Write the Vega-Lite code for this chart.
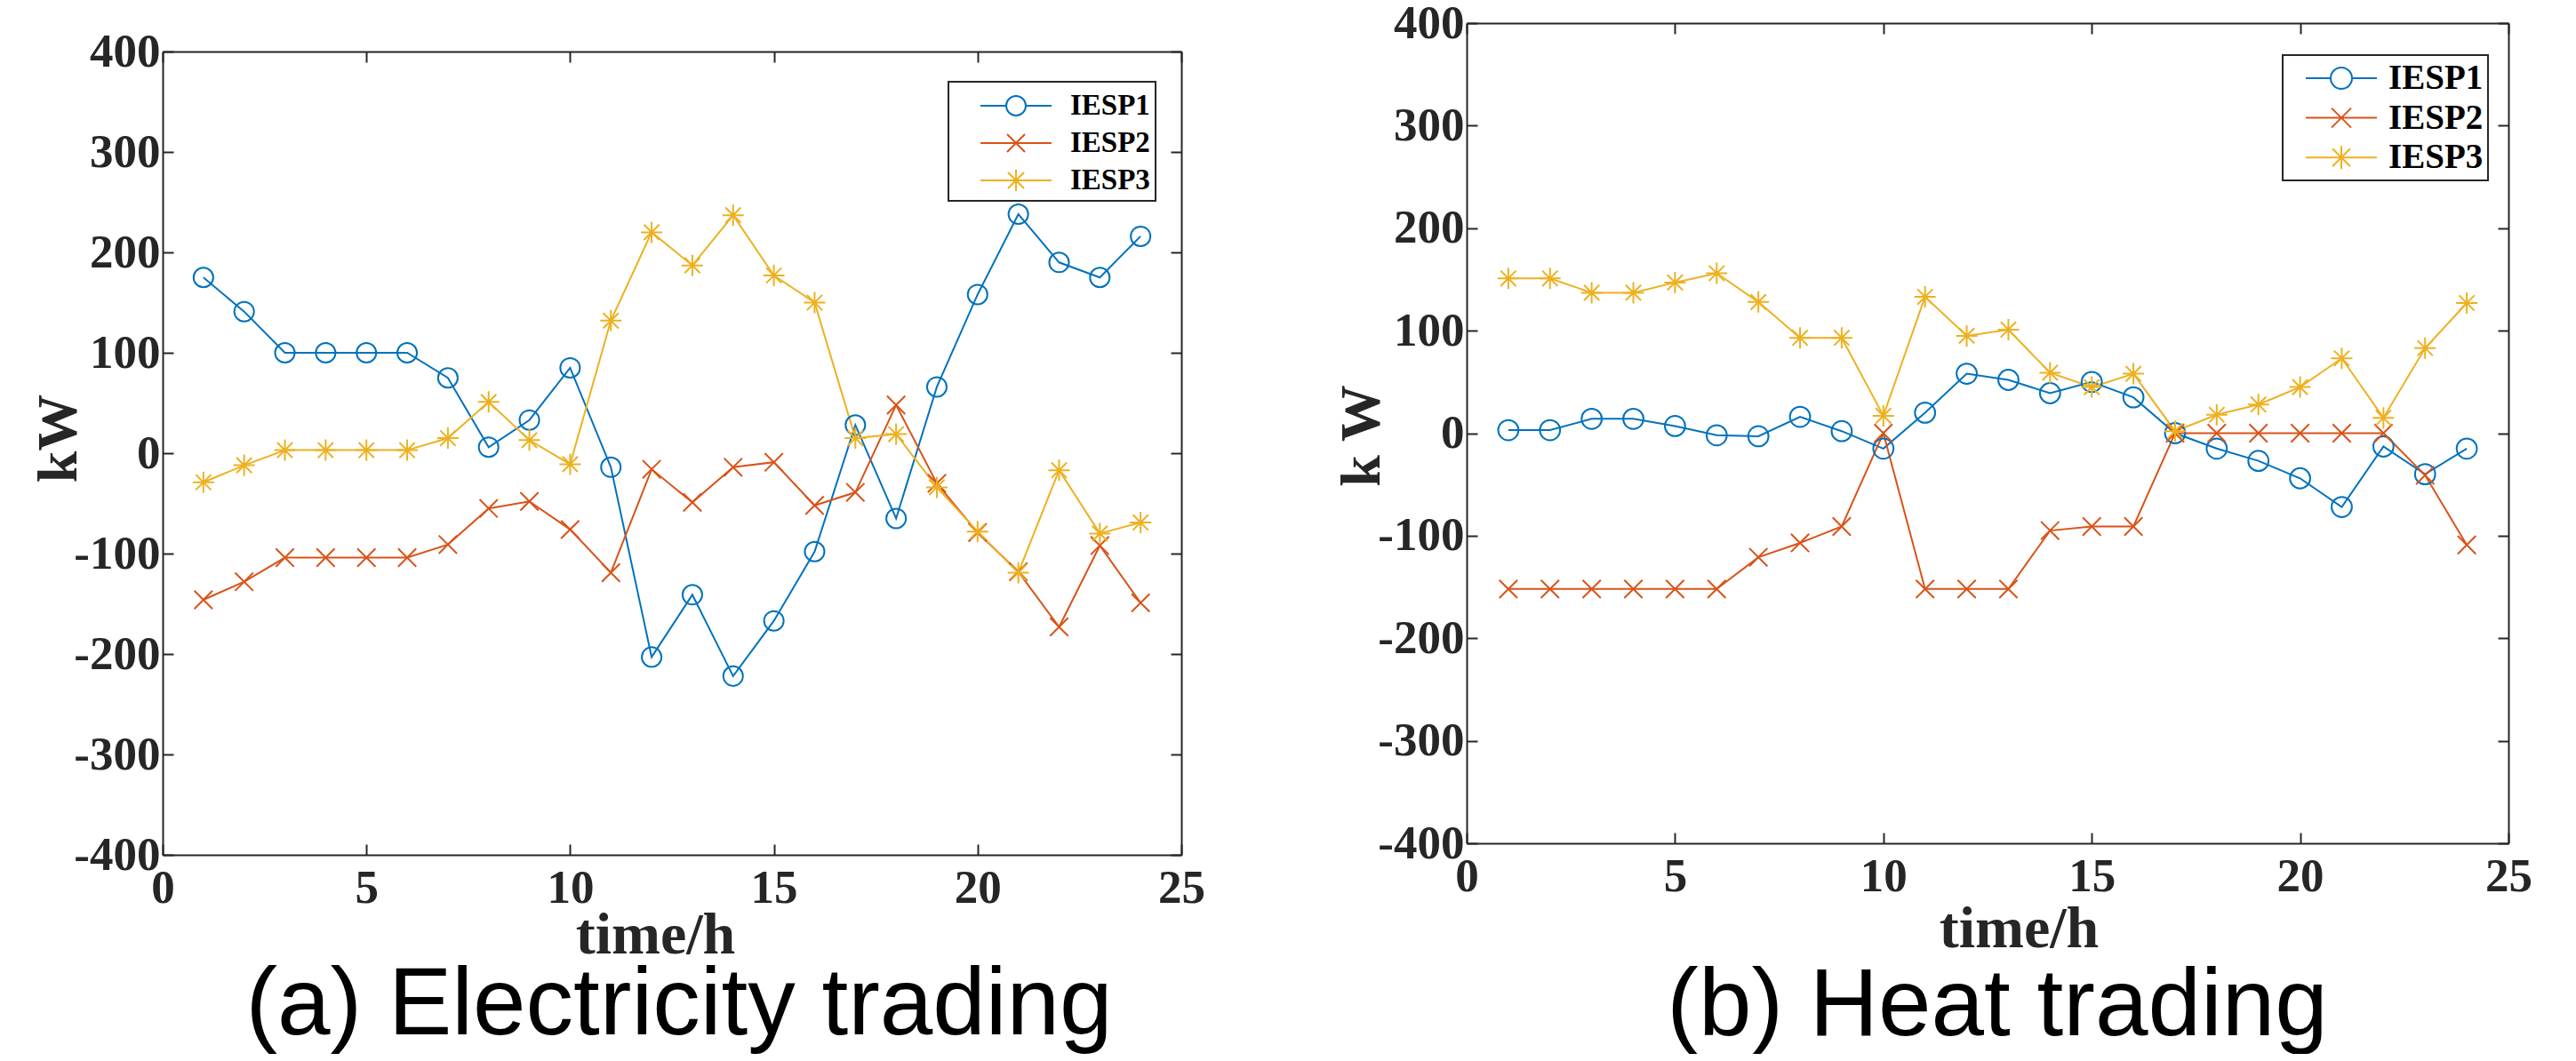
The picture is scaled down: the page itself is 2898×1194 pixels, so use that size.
{
  "$schema": "https://vega.github.io/schema/vega-lite/v6.json",
  "background": "white",
  "padding": {"left": 34, "top": 0, "right": 5, "bottom": 0},
  "spacing": 144,
  "datasets": {
    "elec": [
      {"t":1,"series":"IESP1","v":175},{"t":2,"series":"IESP1","v":141},{"t":3,"series":"IESP1","v":100},{"t":4,"series":"IESP1","v":100},{"t":5,"series":"IESP1","v":100},{"t":6,"series":"IESP1","v":100},{"t":7,"series":"IESP1","v":75},{"t":8,"series":"IESP1","v":6},{"t":9,"series":"IESP1","v":33},{"t":10,"series":"IESP1","v":85},{"t":11,"series":"IESP1","v":-14},{"t":12,"series":"IESP1","v":-203},{"t":13,"series":"IESP1","v":-141},{"t":14,"series":"IESP1","v":-222},{"t":15,"series":"IESP1","v":-167},{"t":16,"series":"IESP1","v":-98},{"t":17,"series":"IESP1","v":28},{"t":18,"series":"IESP1","v":-65},{"t":19,"series":"IESP1","v":66},{"t":20,"series":"IESP1","v":158},{"t":21,"series":"IESP1","v":238},{"t":22,"series":"IESP1","v":190},{"t":23,"series":"IESP1","v":175},{"t":24,"series":"IESP1","v":216},
      {"t":1,"series":"IESP2","v":-146},{"t":2,"series":"IESP2","v":-128},{"t":3,"series":"IESP2","v":-104},{"t":4,"series":"IESP2","v":-104},{"t":5,"series":"IESP2","v":-104},{"t":6,"series":"IESP2","v":-104},{"t":7,"series":"IESP2","v":-91},{"t":8,"series":"IESP2","v":-55},{"t":9,"series":"IESP2","v":-48},{"t":10,"series":"IESP2","v":-76},{"t":11,"series":"IESP2","v":-119},{"t":12,"series":"IESP2","v":-16},{"t":13,"series":"IESP2","v":-49},{"t":14,"series":"IESP2","v":-14},{"t":15,"series":"IESP2","v":-9},{"t":16,"series":"IESP2","v":-52},{"t":17,"series":"IESP2","v":-39},{"t":18,"series":"IESP2","v":48},{"t":19,"series":"IESP2","v":-30},{"t":20,"series":"IESP2","v":-79},{"t":21,"series":"IESP2","v":-118},{"t":22,"series":"IESP2","v":-173},{"t":23,"series":"IESP2","v":-92},{"t":24,"series":"IESP2","v":-149},
      {"t":1,"series":"IESP3","v":-29},{"t":2,"series":"IESP3","v":-12},{"t":3,"series":"IESP3","v":3},{"t":4,"series":"IESP3","v":3},{"t":5,"series":"IESP3","v":3},{"t":6,"series":"IESP3","v":3},{"t":7,"series":"IESP3","v":15},{"t":8,"series":"IESP3","v":51},{"t":9,"series":"IESP3","v":13},{"t":10,"series":"IESP3","v":-11},{"t":11,"series":"IESP3","v":132},{"t":12,"series":"IESP3","v":220},{"t":13,"series":"IESP3","v":187},{"t":14,"series":"IESP3","v":237},{"t":15,"series":"IESP3","v":177},{"t":16,"series":"IESP3","v":150},{"t":17,"series":"IESP3","v":15},{"t":18,"series":"IESP3","v":19},{"t":19,"series":"IESP3","v":-34},{"t":20,"series":"IESP3","v":-78},{"t":21,"series":"IESP3","v":-119},{"t":22,"series":"IESP3","v":-17},{"t":23,"series":"IESP3","v":-80},{"t":24,"series":"IESP3","v":-69}
    ],
    "heat": [
      {"t":1,"series":"IESP1","v":3},{"t":2,"series":"IESP1","v":3},{"t":3,"series":"IESP1","v":14},{"t":4,"series":"IESP1","v":14},{"t":5,"series":"IESP1","v":7},{"t":6,"series":"IESP1","v":-2},{"t":7,"series":"IESP1","v":-3},{"t":8,"series":"IESP1","v":16},{"t":9,"series":"IESP1","v":2},{"t":10,"series":"IESP1","v":-15},{"t":11,"series":"IESP1","v":20},{"t":12,"series":"IESP1","v":58},{"t":13,"series":"IESP1","v":52},{"t":14,"series":"IESP1","v":39},{"t":15,"series":"IESP1","v":50},{"t":16,"series":"IESP1","v":35},{"t":17,"series":"IESP1","v":0},{"t":18,"series":"IESP1","v":-15},{"t":19,"series":"IESP1","v":-27},{"t":20,"series":"IESP1","v":-44},{"t":21,"series":"IESP1","v":-72},{"t":22,"series":"IESP1","v":-13},{"t":23,"series":"IESP1","v":-40},{"t":24,"series":"IESP1","v":-15},
      {"t":1,"series":"IESP2","v":-152},{"t":2,"series":"IESP2","v":-152},{"t":3,"series":"IESP2","v":-152},{"t":4,"series":"IESP2","v":-152},{"t":5,"series":"IESP2","v":-152},{"t":6,"series":"IESP2","v":-152},{"t":7,"series":"IESP2","v":-121},{"t":8,"series":"IESP2","v":-107},{"t":9,"series":"IESP2","v":-91},{"t":10,"series":"IESP2","v":0},{"t":11,"series":"IESP2","v":-152},{"t":12,"series":"IESP2","v":-152},{"t":13,"series":"IESP2","v":-152},{"t":14,"series":"IESP2","v":-95},{"t":15,"series":"IESP2","v":-91},{"t":16,"series":"IESP2","v":-91},{"t":17,"series":"IESP2","v":0},{"t":18,"series":"IESP2","v":0},{"t":19,"series":"IESP2","v":0},{"t":20,"series":"IESP2","v":0},{"t":21,"series":"IESP2","v":0},{"t":22,"series":"IESP2","v":0},{"t":23,"series":"IESP2","v":-41},{"t":24,"series":"IESP2","v":-109},
      {"t":1,"series":"IESP3","v":151},{"t":2,"series":"IESP3","v":151},{"t":3,"series":"IESP3","v":137},{"t":4,"series":"IESP3","v":137},{"t":5,"series":"IESP3","v":147},{"t":6,"series":"IESP3","v":156},{"t":7,"series":"IESP3","v":128},{"t":8,"series":"IESP3","v":93},{"t":9,"series":"IESP3","v":93},{"t":10,"series":"IESP3","v":17},{"t":11,"series":"IESP3","v":133},{"t":12,"series":"IESP3","v":95},{"t":13,"series":"IESP3","v":101},{"t":14,"series":"IESP3","v":59},{"t":15,"series":"IESP3","v":45},{"t":16,"series":"IESP3","v":58},{"t":17,"series":"IESP3","v":2},{"t":18,"series":"IESP3","v":18},{"t":19,"series":"IESP3","v":28},{"t":20,"series":"IESP3","v":45},{"t":21,"series":"IESP3","v":73},{"t":22,"series":"IESP3","v":15},{"t":23,"series":"IESP3","v":83},{"t":24,"series":"IESP3","v":127}
    ]
  },
  "config": {
    "view": {"stroke": null},
    "axis": {
      "domain": true, "domainColor": "#262626", "domainWidth": 2,
      "ticks": true, "tickColor": "#262626", "tickWidth": 2, "tickSize": -12,
      "grid": false,
      "labelFont": "Liberation Serif", "labelFontWeight": "bold", "labelFontSize": 53, "labelColor": "#262626",
      "labelFlush": false, "labelOverlap": false, "labelBound": false,
      "labelExpr": "datum.value < 0 ? '-' + abs(datum.value) : '' + datum.value",
      "titleFont": "Liberation Serif", "titleFontWeight": "bold", "titleColor": "#262626"
    },
    "legend": {
      "labelFont": "Liberation Serif", "labelFontWeight": "bold", "labelColor": "#000000",
      "fillColor": "#FFFFFF", "strokeColor": "#262626"
    }
  },
  "resolve": {"scale": {"color": "independent"}},
  "hconcat": [
    {
      "width": 1146, "height": 936,
      "data": {"name": "elec"},
      "title": {"text": "(a) Electricity trading", "orient": "bottom", "anchor": "middle", "frame": "group", "dx": 8, "offset": -6, "baseline": "top", "font": "Liberation Sans", "fontSize": 107, "fontWeight": "normal", "color": "#000000"},
      "encoding": {
        "x": {"field": "t", "type": "quantitative", "scale": {"domain": [0, 25], "nice": false, "zero": false}},
        "y": {"field": "v", "type": "quantitative", "scale": {"domain": [-400, 400], "range": [936, 32], "nice": false, "zero": false}},
        "color": {"field": "series", "type": "nominal", "scale": {"domain": ["IESP1", "IESP2", "IESP3"], "range": ["#0072BD", "#D95319", "#EDB120"]}, "legend": null}
      },
      "layer": [
        {
          "mark": {"type": "line", "strokeWidth": 2},
          "encoding": {
            "x": {"field": "t", "type": "quantitative",
                  "axis": {"orient": "bottom", "values": [0, 5, 10, 15, 20, 25], "labelPadding": 23, "labelDx": 7,
                           "title": "time/h", "titleFontSize": 66, "titleBaseline": "alphabetic", "titleAlign": "center", "titleX": 554, "titleY": 110}},
            "y": {"field": "v", "type": "quantitative",
                  "axis": {"orient": "left", "values": [-400, -300, -200, -100, 0, 100, 200, 300, 400], "labelPadding": 15, "labelDy": 6,
                           "title": "kW", "titleFontSize": 64, "titleAngle": 270, "titleBaseline": "middle", "titleAlign": "center", "titleX": -117, "titleY": 467}},
            "color": {"field": "series", "type": "nominal",
                      "legend": {"title": null, "orient": "none", "legendX": 884, "legendY": 66, "direction": "vertical",
                                 "padding": 6, "rowPadding": 4, "symbolOffset": 49, "labelOffset": 40, "symbolSize": 1600, "symbolStrokeWidth": 2,
                                 "labelFontSize": 33,
                                 "encode": {
                                   "symbols": {"update": {
                                     "shape": {"signal": "datum.value === 'IESP1' ? 'M-2,0L-0.55,0M0.55,0L2,0M0.55,0A0.55,0.55 0 1,1 -0.55,0A0.55,0.55 0 1,1 0.55,0' : datum.value === 'IESP2' ? 'M-2,0L2,0M-0.5,-0.5L0.5,0.5M-0.5,0.5L0.5,-0.5' : 'M-2,0L2,0M0,-0.6L0,0.6M-0.45,-0.45L0.45,0.45M-0.45,0.45L0.45,-0.45'"},
                                     "size": {"value": 1600}, "strokeWidth": {"value": 2}, "fill": {"value": "transparent"}, "opacity": {"value": 1}}},
                                   "legend": {"update": {"strokeWidth": {"value": 2}}}
                                 }}}
          }
        },
        {
          "transform": [{"filter": "datum.series === 'IESP1'"}],
          "mark": {"type": "point", "filled": false, "strokeWidth": 2, "size": 576, "opacity": 1, "shape": "M0.92,0A0.92,0.92 0 1,1 -0.92,0A0.92,0.92 0 1,1 0.92,0Z"},
          "encoding": {
            "x": {"field": "t", "type": "quantitative",
                  "axis": {"orient": "top", "values": [0, 5, 10, 15, 20, 25], "labels": false, "title": null, "offset": -32, "minExtent": 0, "maxExtent": 0}},
            "y": {"field": "v", "type": "quantitative",
                  "axis": {"orient": "right", "values": [-400, -300, -200, -100, 0, 100, 200, 300, 400], "labels": false, "title": null, "minExtent": 0, "maxExtent": 0}}
          }
        },
        {
          "transform": [{"filter": "datum.series === 'IESP2'"}],
          "mark": {"type": "point", "filled": false, "strokeWidth": 2, "size": 576, "opacity": 1, "shape": "M-0.85,-0.85L0.85,0.85M-0.85,0.85L0.85,-0.85"},
          "encoding": {
            "x": {"field": "t", "type": "quantitative", "axis": null},
            "y": {"field": "v", "type": "quantitative", "axis": null}
          }
        },
        {
          "transform": [{"filter": "datum.series === 'IESP3'"}],
          "mark": {"type": "point", "filled": false, "strokeWidth": 2, "size": 576, "opacity": 1, "shape": "M-1,0L1,0M0,-1L0,1M-0.72,-0.72L0.72,0.72M-0.72,0.72L0.72,-0.72"},
          "encoding": {
            "x": {"field": "t", "type": "quantitative", "axis": null},
            "y": {"field": "v", "type": "quantitative", "axis": null}
          }
        }
      ],
      "resolve": {"axis": {"x": "independent", "y": "independent"}}
    },
    {
      "width": 1172, "height": 923,
      "data": {"name": "heat"},
      "title": {"text": "(b) Heat trading", "orient": "bottom", "anchor": "middle", "frame": "group", "dx": 11, "offset": 2, "baseline": "top", "font": "Liberation Sans", "fontSize": 107, "fontWeight": "normal", "color": "#000000"},
      "encoding": {
        "x": {"field": "t", "type": "quantitative", "scale": {"domain": [0, 25], "nice": false, "zero": false}},
        "y": {"field": "v", "type": "quantitative", "scale": {"domain": [-400, 400], "nice": false, "zero": false}},
        "color": {"field": "series", "type": "nominal", "scale": {"domain": ["IESP1", "IESP2", "IESP3"], "range": ["#0072BD", "#D95319", "#EDB120"]}, "legend": null}
      },
      "layer": [
        {
          "mark": {"type": "line", "strokeWidth": 2},
          "encoding": {
            "x": {"field": "t", "type": "quantitative",
                  "axis": {"orient": "bottom", "values": [0, 5, 10, 15, 20, 25], "labelPadding": 23, "labelDx": 7,
                           "title": "time/h", "titleFontSize": 66, "titleBaseline": "alphabetic", "titleAlign": "center", "titleX": 621, "titleY": 116}},
            "y": {"field": "v", "type": "quantitative",
                  "axis": {"orient": "left", "values": [-400, -300, -200, -100, 0, 100, 200, 300, 400], "labelPadding": 15, "labelDy": 6,
                           "title": "k W", "titleFontSize": 64, "titleAngle": 270, "titleBaseline": "middle", "titleAlign": "center", "titleX": -118, "titleY": 464}},
            "color": {"field": "series", "type": "nominal",
                      "legend": {"title": null, "orient": "none", "legendX": 918, "legendY": 36, "direction": "vertical",
                                 "padding": 5, "rowPadding": 3.6, "symbolOffset": 40, "labelOffset": 32, "symbolSize": 1600, "symbolStrokeWidth": 2,
                                 "labelFontSize": 39,
                                 "encode": {
                                   "symbols": {"update": {
                                     "shape": {"signal": "datum.value === 'IESP1' ? 'M-2,0L-0.6,0M0.6,0L2,0M0.6,0A0.6,0.6 0 1,1 -0.6,0A0.6,0.6 0 1,1 0.6,0' : datum.value === 'IESP2' ? 'M-2,0L2,0M-0.55,-0.55L0.55,0.55M-0.55,0.55L0.55,-0.55' : 'M-2,0L2,0M0,-0.65L0,0.65M-0.5,-0.5L0.5,0.5M-0.5,0.5L0.5,-0.5'"},
                                     "size": {"value": 1600}, "strokeWidth": {"value": 2}, "fill": {"value": "transparent"}, "opacity": {"value": 1}}},
                                   "legend": {"update": {"strokeWidth": {"value": 2}}}
                                 }}}
          }
        },
        {
          "transform": [{"filter": "datum.series === 'IESP1'"}],
          "mark": {"type": "point", "filled": false, "strokeWidth": 2, "size": 576, "opacity": 1, "shape": "M0.95,0A0.95,0.95 0 1,1 -0.95,0A0.95,0.95 0 1,1 0.95,0Z"},
          "encoding": {
            "x": {"field": "t", "type": "quantitative",
                  "axis": {"orient": "top", "values": [0, 5, 10, 15, 20, 25], "labels": false, "title": null, "minExtent": 0, "maxExtent": 0}},
            "y": {"field": "v", "type": "quantitative",
                  "axis": {"orient": "right", "values": [-400, -300, -200, -100, 0, 100, 200, 300, 400], "labels": false, "title": null, "minExtent": 0, "maxExtent": 0}}
          }
        },
        {
          "transform": [{"filter": "datum.series === 'IESP2'"}],
          "mark": {"type": "point", "filled": false, "strokeWidth": 2, "size": 576, "opacity": 1, "shape": "M-0.85,-0.85L0.85,0.85M-0.85,0.85L0.85,-0.85"},
          "encoding": {
            "x": {"field": "t", "type": "quantitative", "axis": null},
            "y": {"field": "v", "type": "quantitative", "axis": null}
          }
        },
        {
          "transform": [{"filter": "datum.series === 'IESP3'"}],
          "mark": {"type": "point", "filled": false, "strokeWidth": 2, "size": 576, "opacity": 1, "shape": "M-1,0L1,0M0,-1L0,1M-0.72,-0.72L0.72,0.72M-0.72,0.72L0.72,-0.72"},
          "encoding": {
            "x": {"field": "t", "type": "quantitative", "axis": null},
            "y": {"field": "v", "type": "quantitative", "axis": null}
          }
        }
      ],
      "resolve": {"axis": {"x": "independent", "y": "independent"}}
    }
  ]
}
